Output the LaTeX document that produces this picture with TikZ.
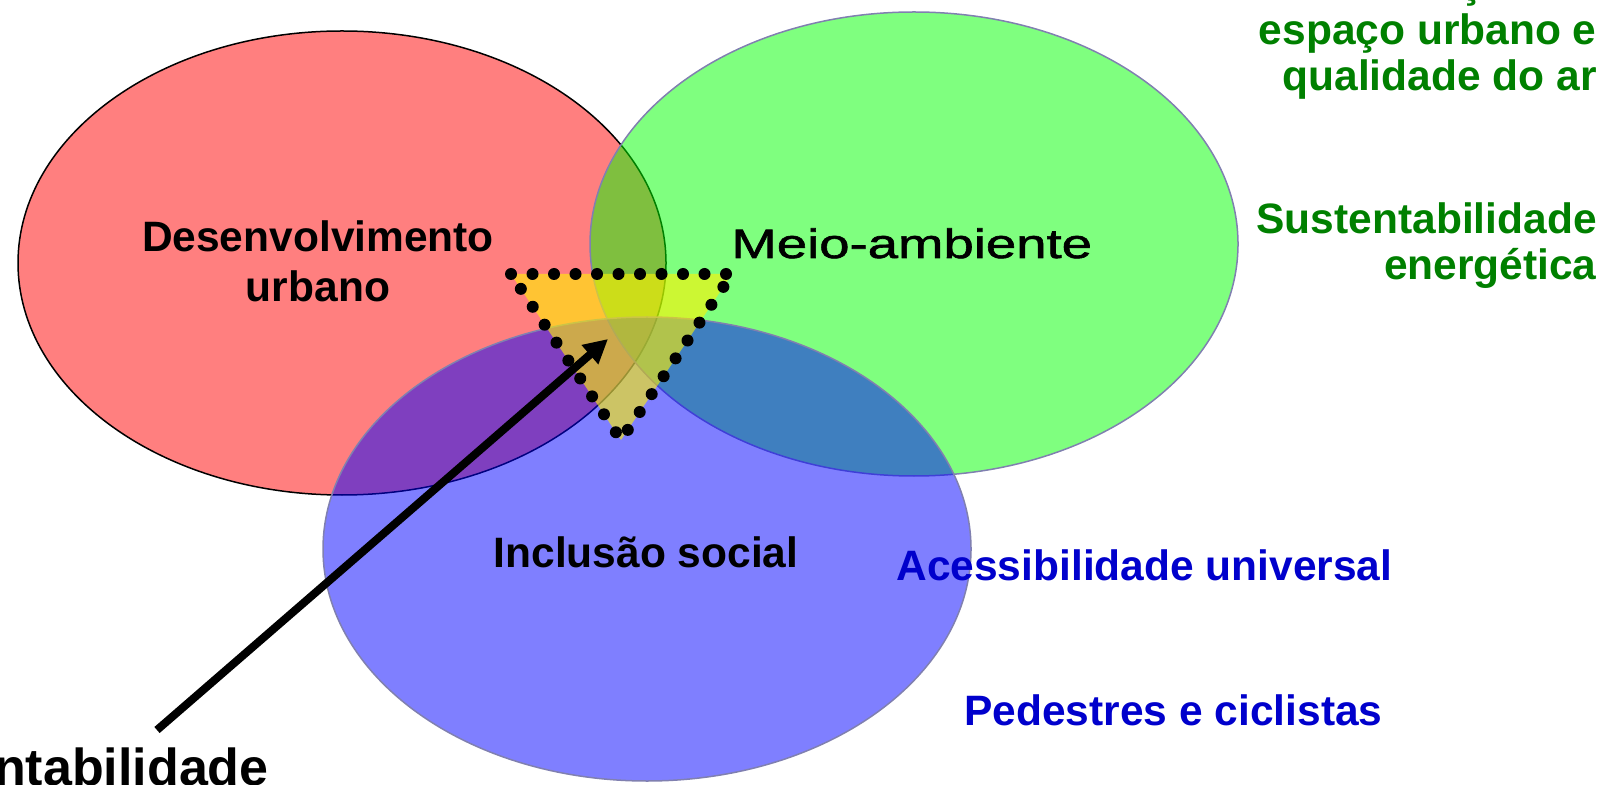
\documentclass[tikz,border=0pt]{standalone}
\usepackage{fontspec}
\setmainfont{Liberation Sans}
\newfontfamily\widesans[FakeStretch=1.33, FakeBold=1.5]{Liberation Sans}
\usetikzlibrary{arrows.meta}

\definecolor{rimgray}{RGB}{128,128,176}
\definecolor{txtgreen}{RGB}{0,128,0}
\definecolor{txtblue}{RGB}{0,0,204}

\tikzset{
  venn/.style={line width=0.75pt, fill opacity=0.5},
  bigword/.style={inner sep=0pt, font=\fontsize{21.25}{23.25}\selectfont\bfseries},
  corezone/.style={draw=black, line width=6pt, line cap=round,
    dash pattern=on 0pt off 10.75pt, fill=yellow, fill opacity=0.6},
}

\begin{document}
\begin{tikzpicture}[x=0.5pt,y=-0.5pt]
  \useasboundingbox (0,0) rectangle (1604,785);
  \clip (0,0) rectangle (1604,785);

  %% The three overlapping areas
  \foreach \cx/\cy/\col/\rim in {342/263/red/black,914/244/green/rimgray,647/549/blue/rimgray}
  {
    \draw[venn, draw=\rim, fill=\col] (\cx,\cy) ellipse [x radius=162pt, y radius=116pt];
  }

  %% Common zone
  \draw[corezone] (511,274) -- (732,274) -- (621,440) -- cycle;

  %% Labels of the areas (base = last line)
  \node[bigword, align=center, anchor=base, font={\fontsize{21.25}{25}\selectfont\bfseries}]
    (desurb) at (318,302) {Desenvolvimento\\urbano};
  \node[inner sep=0pt, anchor=base west, font=\fontsize{20.5}{22}\widesans]
    (meio) at (731,258) {Meio-ambiente};
  \node[bigword, anchor=base] (incl) at (646,567) {Inclusão social};

  %% Side themes
  \node[bigword, text=txtgreen, align=right, anchor=base east]
    (espaco) at (1597,91) {Racionalização do\\espaço urbano e\\qualidade do ar};
  \node[bigword, text=txtgreen, align=right, anchor=base east]
    (energia) at (1597,280) {Sustentabilidade\\energética};
  \node[bigword, text=txtblue, anchor=base west] (acess) at (896,580) {Acessibilidade universal};
  \node[bigword, text=txtblue, anchor=base west] (pedes) at (964,725) {Pedestres e ciclistas};

  %% Pointer to the common zone
  \node[inner sep=0pt, anchor=base east, font=\fontsize{26}{28}\selectfont\bfseries]
    (sustbase) at (269,785) {Sustentabilidade};
  \coordinate (tail) at (157,730);
  \coordinate (core) at (608,339);
  \draw[line width=4pt, -{Triangle[length=12pt,width=12pt]}] (tail) -- (core);
\end{tikzpicture}
\end{document}
